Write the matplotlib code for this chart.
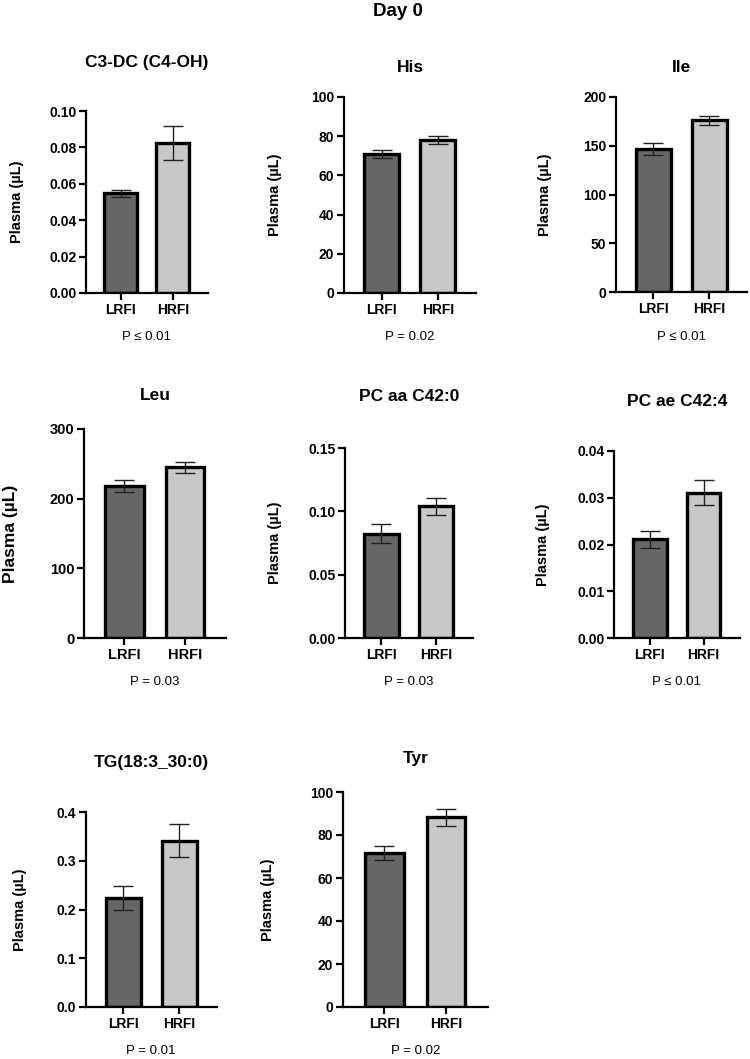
import numpy as np
import matplotlib
matplotlib.use("Agg")
import matplotlib.pyplot as plt
from matplotlib.transforms import blended_transform_factory

# values
titles = ["C3-DC (C4-OH)", "His", "Ile", "Leu", "PC aa C42:0", "PC ae C42:4",
          "TG(18:3_30:0)", "Tyr"]
groups = ["LRFI", "HRFI"]
lrfi_mean = [0.0547, 71.0, 147.0, 218.0, 0.0824, 0.0211, 0.223, 71.5]
lrfi_err = [0.0020, 2.2, 6.0, 9.0, 0.0073, 0.0018, 0.025, 3.2]
hrfi_mean = [0.0822, 78.0, 176.0, 245.0, 0.104, 0.0311, 0.341, 88.2]
hrfi_err = [0.0093, 2.0, 5.0, 8.0, 0.0066, 0.0026, 0.034, 4.0]
ymax = [0.10, 100, 200, 300, 0.15, 0.04, 0.4, 100]
ystep = [0.02, 20, 50, 100, 0.05, 0.01, 0.1, 20]
ydec = [2, 0, 0, 0, 2, 2, 1, 0]
pvals = ["P ≤ 0.01", "P = 0.02", "P ≤ 0.01", "P = 0.03", "P = 0.03", "P ≤ 0.01",
         "P = 0.01", "P = 0.02"]

W, H = 750, 1059
# layout in pixels: axes box (left, right, top, bottom), title y, p-value y, ylabel x
boxes = [(86, 208, 111, 293), (344, 476, 97, 293), (616, 747, 97, 292),
         (84, 226, 429, 638), (345, 473, 448, 638), (614, 740, 451, 638),
         (86, 217, 812, 1007), (343, 488, 792, 1007)]
title_y = [63, 67, 67, 395, 397, 402, 762, 759]
p_y = [337, 337, 337, 682, 682, 682, 1051, 1051]
ylab_x = [17, 275, 545, 11, 275, 543, 20, 268]

plt.rcParams['font.family'] = ['Liberation Sans', 'DejaVu Sans']
colors = ["#666666", "#c8c8c8"]

fig = plt.figure(figsize=(W / 100, H / 100), dpi=100)
fig.text(398 / W, 1 - 11 / H, "Day 0", ha="center", va="center",
         fontsize=13.5, fontweight="bold")

for i in range(len(titles)):
    l, r, t, b = boxes[i]
    ax = fig.add_axes([l / W, 1 - b / H, (r - l) / W, (b - t) / H])
    x = np.arange(2)
    means = [lrfi_mean[i], hrfi_mean[i]]
    errs = [lrfi_err[i], hrfi_err[i]]
    ax.bar(x, means, width=0.63, color=colors, edgecolor="black",
           linewidth=2.4, zorder=2)
    ax.errorbar(x, means, yerr=errs, fmt="none", ecolor="#222222",
                elinewidth=1.0, capsize=7, capthick=1.0, zorder=3, clip_on=False)
    ax.set_xlim(-0.67, 1.68)
    ax.set_ylim(0, ymax[i])
    ticks = np.arange(0, ymax[i] + ystep[i] / 2, ystep[i])
    ax.set_yticks(ticks)
    ax.set_yticklabels([f"{v:.{ydec[i]}f}" for v in ticks])
    ax.set_xticks(x)
    ax.set_xticklabels(groups)
    for s in ["top", "right"]:
        ax.spines[s].set_visible(False)
    for s in ["left", "bottom"]:
        ax.spines[s].set_linewidth(1.6)
    ax.tick_params(axis="both", width=1.6, length=5, labelsize=10.5 if i == 3 else 10, pad=2)
    for lab in ax.get_xticklabels() + ax.get_yticklabels():
        lab.set_fontweight("bold")
    ax.set_ylabel("Plasma (µL)", fontsize=12.5 if i == 3 else 10.5,
                  fontweight="bold", va="center")
    ax.yaxis.set_label_coords((ylab_x[i] - l) / (r - l), 0.5)
    fig.text((l + r) / 2 / W, 1 - title_y[i] / H, titles[i], ha="center",
             va="center", fontsize=12.5, fontweight="bold")
    trans = blended_transform_factory(ax.transData, fig.transFigure)
    ax.text(0.5, 1 - p_y[i] / H, pvals[i], transform=trans, ha="center",
            va="center", fontsize=9.5)

fig.savefig("out.png", dpi=100)
